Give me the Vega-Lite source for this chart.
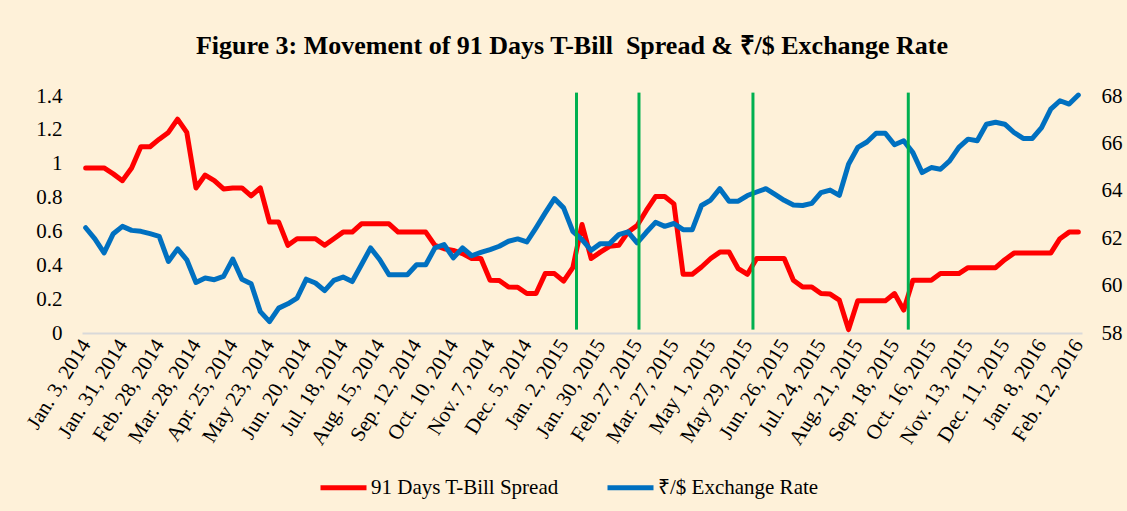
{
  "$schema": "https://vega.github.io/schema/vega-lite/v6.json",
  "width": 1000,
  "height": 237,
  "autosize": "none",
  "padding": {"left": 82, "top": 96, "right": 45, "bottom": 178},
  "background": "#FEF1D9",
  "config": {
    "view": {"stroke": null},
    "font": "Liberation Serif",
    "axis": {"labelFont": "Liberation Serif", "labelColor": "#000000", "grid": false, "ticks": false},
    "legend": {"labelFont": "Liberation Serif"}
  },
  "title": {
    "text": "Figure 3: Movement of 91 Days T-Bill \u00a0Spread & ₹/$ Exchange Rate",
    "font": "Liberation Serif",
    "fontWeight": "bold",
    "fontSize": 26,
    "color": "#000000",
    "anchor": "middle",
    "frame": "group",
    "baseline": "alphabetic",
    "dx": -10,
    "offset": 5
  },
  "datasets": {
    "series": [
      {"date": "Jan. 3, 2014", "spread": 0.975, "rate": 62.44},
      {"date": "Jan. 10, 2014", "spread": 0.975, "rate": 61.97},
      {"date": "Jan. 17, 2014", "spread": 0.975, "rate": 61.38},
      {"date": "Jan. 24, 2014", "spread": 0.94, "rate": 62.19},
      {"date": "Jan. 31, 2014", "spread": 0.90, "rate": 62.50},
      {"date": "Feb. 7, 2014", "spread": 0.975, "rate": 62.33},
      {"date": "Feb. 14, 2014", "spread": 1.10, "rate": 62.29},
      {"date": "Feb. 21, 2014", "spread": 1.10, "rate": 62.19},
      {"date": "Feb. 28, 2014", "spread": 1.145, "rate": 62.08},
      {"date": "Mar. 7, 2014", "spread": 1.185, "rate": 61.02},
      {"date": "Mar. 14, 2014", "spread": 1.263, "rate": 61.55},
      {"date": "Mar. 21, 2014", "spread": 1.185, "rate": 61.09},
      {"date": "Mar. 28, 2014", "spread": 0.857, "rate": 60.13},
      {"date": "Apr. 4, 2014", "spread": 0.933, "rate": 60.32},
      {"date": "Apr. 11, 2014", "spread": 0.90, "rate": 60.25},
      {"date": "Apr. 18, 2014", "spread": 0.851, "rate": 60.39},
      {"date": "Apr. 25, 2014", "spread": 0.857, "rate": 61.12},
      {"date": "May 2, 2014", "spread": 0.857, "rate": 60.27},
      {"date": "May 9, 2014", "spread": 0.81, "rate": 60.08},
      {"date": "May 16, 2014", "spread": 0.857, "rate": 58.90},
      {"date": "May 23, 2014", "spread": 0.655, "rate": 58.48},
      {"date": "May 30, 2014", "spread": 0.655, "rate": 59.05},
      {"date": "Jun. 6, 2014", "spread": 0.518, "rate": 59.23},
      {"date": "Jun. 13, 2014", "spread": 0.557, "rate": 59.47},
      {"date": "Jun. 20, 2014", "spread": 0.557, "rate": 60.27},
      {"date": "Jun. 27, 2014", "spread": 0.557, "rate": 60.11},
      {"date": "Jul. 4, 2014", "spread": 0.518, "rate": 59.79},
      {"date": "Jul. 11, 2014", "spread": 0.557, "rate": 60.22},
      {"date": "Jul. 18, 2014", "spread": 0.596, "rate": 60.36},
      {"date": "Jul. 25, 2014", "spread": 0.596, "rate": 60.17},
      {"date": "Aug. 1, 2014", "spread": 0.645, "rate": 60.88},
      {"date": "Aug. 8, 2014", "spread": 0.645, "rate": 61.59},
      {"date": "Aug. 15, 2014", "spread": 0.645, "rate": 61.09},
      {"date": "Aug. 22, 2014", "spread": 0.645, "rate": 60.46},
      {"date": "Aug. 29, 2014", "spread": 0.596, "rate": 60.46},
      {"date": "Sep. 5, 2014", "spread": 0.596, "rate": 60.46},
      {"date": "Sep. 12, 2014", "spread": 0.596, "rate": 60.88},
      {"date": "Sep. 19, 2014", "spread": 0.596, "rate": 60.88},
      {"date": "Sep. 26, 2014", "spread": 0.518, "rate": 61.59},
      {"date": "Oct. 3, 2014", "spread": 0.498, "rate": 61.73},
      {"date": "Oct. 10, 2014", "spread": 0.488, "rate": 61.17},
      {"date": "Oct. 17, 2014", "spread": 0.469, "rate": 61.59},
      {"date": "Oct. 24, 2014", "spread": 0.44, "rate": 61.26},
      {"date": "Oct. 31, 2014", "spread": 0.44, "rate": 61.40},
      {"date": "Nov. 7, 2014", "spread": 0.312, "rate": 61.52},
      {"date": "Nov. 14, 2014", "spread": 0.31, "rate": 61.66},
      {"date": "Nov. 21, 2014", "spread": 0.272, "rate": 61.87},
      {"date": "Nov. 28, 2014", "spread": 0.27, "rate": 61.97},
      {"date": "Dec. 5, 2014", "spread": 0.233, "rate": 61.84},
      {"date": "Dec. 12, 2014", "spread": 0.233, "rate": 62.44},
      {"date": "Dec. 19, 2014", "spread": 0.351, "rate": 63.07},
      {"date": "Dec. 26, 2014", "spread": 0.351, "rate": 63.67},
      {"date": "Jan. 2, 2015", "spread": 0.306, "rate": 63.28},
      {"date": "Jan. 9, 2015", "spread": 0.386, "rate": 62.29},
      {"date": "Jan. 16, 2015", "spread": 0.641, "rate": 61.94},
      {"date": "Jan. 23, 2015", "spread": 0.44, "rate": 61.49},
      {"date": "Jan. 30, 2015", "spread": 0.478, "rate": 61.77},
      {"date": "Feb. 6, 2015", "spread": 0.512, "rate": 61.77},
      {"date": "Feb. 13, 2015", "spread": 0.518, "rate": 62.15},
      {"date": "Feb. 20, 2015", "spread": 0.596, "rate": 62.27},
      {"date": "Feb. 27, 2015", "spread": 0.635, "rate": 61.80},
      {"date": "Mar. 6, 2015", "spread": 0.724, "rate": 62.25},
      {"date": "Mar. 13, 2015", "spread": 0.806, "rate": 62.67},
      {"date": "Mar. 20, 2015", "spread": 0.806, "rate": 62.50},
      {"date": "Mar. 27, 2015", "spread": 0.763, "rate": 62.62},
      {"date": "Apr. 10, 2015", "spread": 0.347, "rate": 62.36},
      {"date": "Apr. 17, 2015", "spread": 0.347, "rate": 62.36},
      {"date": "Apr. 24, 2015", "spread": 0.39, "rate": 63.38},
      {"date": "May 1, 2015", "spread": 0.44, "rate": 63.61},
      {"date": "May 8, 2015", "spread": 0.478, "rate": 64.09},
      {"date": "May 15, 2015", "spread": 0.478, "rate": 63.56},
      {"date": "May 22, 2015", "spread": 0.38, "rate": 63.56},
      {"date": "May 29, 2015", "spread": 0.347, "rate": 63.80},
      {"date": "Jun. 5, 2015", "spread": 0.44, "rate": 63.95},
      {"date": "Jun. 12, 2015", "spread": 0.44, "rate": 64.09},
      {"date": "Jun. 19, 2015", "spread": 0.44, "rate": 63.85},
      {"date": "Jun. 26, 2015", "spread": 0.44, "rate": 63.60},
      {"date": "Jul. 3, 2015", "spread": 0.312, "rate": 63.40},
      {"date": "Jul. 10, 2015", "spread": 0.272, "rate": 63.38},
      {"date": "Jul. 17, 2015", "spread": 0.272, "rate": 63.47},
      {"date": "Jul. 24, 2015", "spread": 0.233, "rate": 63.92},
      {"date": "Jul. 31, 2015", "spread": 0.23, "rate": 64.03},
      {"date": "Aug. 7, 2015", "spread": 0.194, "rate": 63.81},
      {"date": "Aug. 14, 2015", "spread": 0.02, "rate": 65.12},
      {"date": "Aug. 21, 2015", "spread": 0.19, "rate": 65.83},
      {"date": "Aug. 28, 2015", "spread": 0.19, "rate": 66.06},
      {"date": "Sep. 4, 2015", "spread": 0.19, "rate": 66.43},
      {"date": "Sep. 11, 2015", "spread": 0.19, "rate": 66.43},
      {"date": "Sep. 18, 2015", "spread": 0.233, "rate": 65.94},
      {"date": "Sep. 25, 2015", "spread": 0.135, "rate": 66.11},
      {"date": "Oct. 2, 2015", "spread": 0.312, "rate": 65.61},
      {"date": "Oct. 9, 2015", "spread": 0.312, "rate": 64.77},
      {"date": "Oct. 16, 2015", "spread": 0.312, "rate": 64.98},
      {"date": "Oct. 23, 2015", "spread": 0.351, "rate": 64.91},
      {"date": "Oct. 30, 2015", "spread": 0.351, "rate": 65.26},
      {"date": "Nov. 6, 2015", "spread": 0.351, "rate": 65.83},
      {"date": "Nov. 13, 2015", "spread": 0.386, "rate": 66.18},
      {"date": "Nov. 20, 2015", "spread": 0.386, "rate": 66.11},
      {"date": "Nov. 27, 2015", "spread": 0.386, "rate": 66.81},
      {"date": "Dec. 4, 2015", "spread": 0.386, "rate": 66.89},
      {"date": "Dec. 11, 2015", "spread": 0.433, "rate": 66.81},
      {"date": "Dec. 18, 2015", "spread": 0.472, "rate": 66.46},
      {"date": "Dec. 25, 2015", "spread": 0.472, "rate": 66.21},
      {"date": "Jan. 1, 2016", "spread": 0.472, "rate": 66.21},
      {"date": "Jan. 8, 2016", "spread": 0.472, "rate": 66.67},
      {"date": "Jan. 15, 2016", "spread": 0.472, "rate": 67.45},
      {"date": "Jan. 22, 2016", "spread": 0.557, "rate": 67.80},
      {"date": "Feb. 5, 2016", "spread": 0.596, "rate": 67.66},
      {"date": "Feb. 12, 2016", "spread": 0.596, "rate": 68.04}
    ],
    "cuts": [
      {"i": 53.4},
      {"i": 60.2},
      {"i": 72.6},
      {"i": 89.5}
    ]
  },
  "layer": [
    {
      "data": {"name": "series"},
      "mark": {"type": "line", "strokeWidth": 5, "strokeCap": "round", "strokeJoin": "round"},
      "encoding": {
        "x": {
          "field": "date", "type": "ordinal", "sort": null,
          "scale": {"type": "point", "padding": 0.4},
          "axis": {
            "values": ["Jan. 3, 2014", "Jan. 31, 2014", "Feb. 28, 2014", "Mar. 28, 2014", "Apr. 25, 2014", "May 23, 2014", "Jun. 20, 2014", "Jul. 18, 2014", "Aug. 15, 2014", "Sep. 12, 2014", "Oct. 10, 2014", "Nov. 7, 2014", "Dec. 5, 2014", "Jan. 2, 2015", "Jan. 30, 2015", "Feb. 27, 2015", "Mar. 27, 2015", "May 1, 2015", "May 29, 2015", "Jun. 26, 2015", "Jul. 24, 2015", "Aug. 21, 2015", "Sep. 18, 2015", "Oct. 16, 2015", "Nov. 13, 2015", "Dec. 11, 2015", "Jan. 8, 2016", "Feb. 12, 2016"],
            "title": null,
            "labelFont": "Liberation Serif",
            "labelColor": "#000000",
            "labelAngle": -58,
            "labelAlign": "right",
            "labelBaseline": "middle",
            "labelFontSize": 21,
            "labelPadding": 8,
            "labelOverlap": false,
            "labelBound": false,
            "labelFlush": false,
            "labelLimit": 0,
            "domainColor": "#D9D9D9",
            "domainWidth": 2
          }
        },
        "y": {
          "field": "spread", "type": "quantitative",
          "scale": {"domain": [0, 1.4], "nice": false, "zero": false},
          "axis": {
            "orient": "left", "title": null, "domain": false,
            "values": [0, 0.2, 0.4, 0.6, 0.8, 1, 1.2, 1.4],
            "format": ".1~f",
            "labelFont": "Liberation Serif",
            "labelColor": "#000000",
            "labelFontSize": 21, "labelPadding": 20
          }
        },
        "color": {
          "datum": "91 Days T-Bill Spread",
          "scale": {"domain": ["91 Days T-Bill Spread", "₹/$ Exchange Rate"], "range": ["#FF0000", "#0070C0"]},
          "legend": {
            "title": null,
            "orient": "none",
            "legendX": 236,
            "legendY": 366,
            "direction": "horizontal",
            "symbolType": "stroke",
            "symbolSize": 2116,
            "symbolStrokeWidth": 5,
            "labelFont": "Liberation Serif",
            "labelFontSize": 21,
            "labelColor": "#000000",
            "labelLimit": 0,
            "labelOffset": 2,
            "columnPadding": 38
          }
        }
      }
    },
    {
      "data": {"name": "series"},
      "mark": {"type": "line", "strokeWidth": 5, "strokeCap": "round", "strokeJoin": "round"},
      "encoding": {
        "x": {
          "field": "date", "type": "ordinal", "sort": null,
          "scale": {"type": "point", "padding": 0.4},
          "axis": null
        },
        "y": {
          "field": "rate", "type": "quantitative",
          "scale": {"domain": [58, 68], "nice": false, "zero": false},
          "axis": {
            "orient": "right", "title": null, "domain": false,
            "values": [58, 60, 62, 64, 66, 68],
            "labelFont": "Liberation Serif",
            "labelColor": "#000000",
            "labelFontSize": 21, "labelPadding": 19
          }
        },
        "color": {"datum": "₹/$ Exchange Rate"}
      }
    },
    {
      "data": {"name": "cuts"},
      "mark": {"type": "rule", "color": "#00B050", "strokeWidth": 3},
      "encoding": {
        "x": {
          "field": "i", "type": "quantitative",
          "scale": {"domain": [-0.4, 108.4], "nice": false, "zero": false},
          "axis": null
        },
        "y": {
          "datum": 0.02, "type": "quantitative",
          "scale": {"domain": [0, 1.4], "nice": false, "zero": false},
          "axis": null
        },
        "y2": {"datum": 1.42}
      }
    }
  ],
  "resolve": {"scale": {"x": "independent", "y": "independent"}}
}
